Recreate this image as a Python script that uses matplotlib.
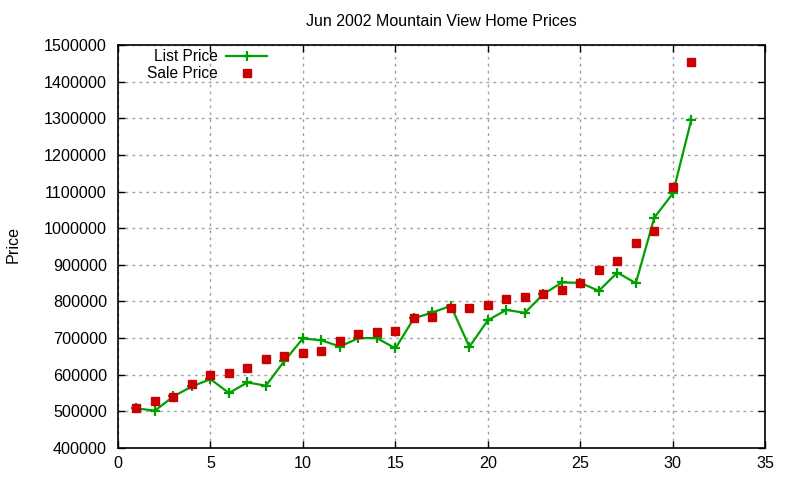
import numpy as np
import matplotlib
matplotlib.use('Agg')
import matplotlib.pyplot as plt

# days of the month
day = list(range(1, 32))

list_price = [508000, 502000, 541000, 568000, 588000, 550000, 579000, 570000,
              638000, 699000, 694000, 677000, 700000, 700000, 672000, 754000,
              770000, 788000, 676000, 749000, 777000, 769000, 820000, 852000,
              851000, 829000, 879000, 850000, 1029000, 1095000, 1296000]

sale_price = [509000, 528000, 540000, 575000, 599000, 605000, 618000, 643000,
              651000, 660000, 665000, 692000, 711000, 717000, 720000, 755000,
              758000, 782000, 782000, 790000, 807000, 813000, 820000, 831000,
              850000, 886000, 911000, 959000, 992000, 1112000, 1453000]

plt.rcParams['font.family'] = ['Liberation Sans', 'DejaVu Sans']
plt.rcParams['font.size'] = 11.6

fig = plt.figure(figsize=(8, 4.8), dpi=100)
ax = fig.add_axes([0.1475, 0.0667, 0.8091, 0.8393])

l1, = ax.plot(day, list_price, color='#00a000', lw=1.6, marker='+', ms=7,
              mew=1.6, label='List Price')
l2, = ax.plot(day, sale_price, ls='none', color='#cc0000', marker='s', ms=5.8,
              label='Sale Price')

ax.set_xlim(0, 35)
ax.set_ylim(400000, 1500000)
ax.set_xticks(range(0, 36, 5))
ax.set_yticks(range(400000, 1500001, 100000))
ax.ticklabel_format(style='plain', axis='y', useOffset=False)

ax.grid(True, color='#a0a0a0', ls=(0, (2, 3)), lw=1)
ax.tick_params(direction='in', top=True, right=True, length=5, width=1)
ax.tick_params(axis='y', pad=8)
ax.tick_params(axis='x', pad=6)
for s in ax.spines.values():
    s.set_linewidth(1.2)

ax.set_title('Jun 2002 Mountain View Home Prices', fontsize=11.5, pad=14)
fig.text(0.016, 0.49, 'Price', rotation=90, va='center', ha='center')

# gnuplot style key: labels right-aligned, sample on the right
kw = dict(loc='upper right', frameon=False, markerfirst=False, handlelength=2.6,
          borderpad=0.0, borderaxespad=0.0, handletextpad=0.55, fontsize=11.2)
leg1 = ax.legend(handles=[l1], bbox_to_anchor=(0.23, 0.99), **kw)
ax.add_artist(leg1)
ax.legend(handles=[l2], bbox_to_anchor=(0.23, 0.948), **kw)

fig.savefig('out.png', dpi=100)
